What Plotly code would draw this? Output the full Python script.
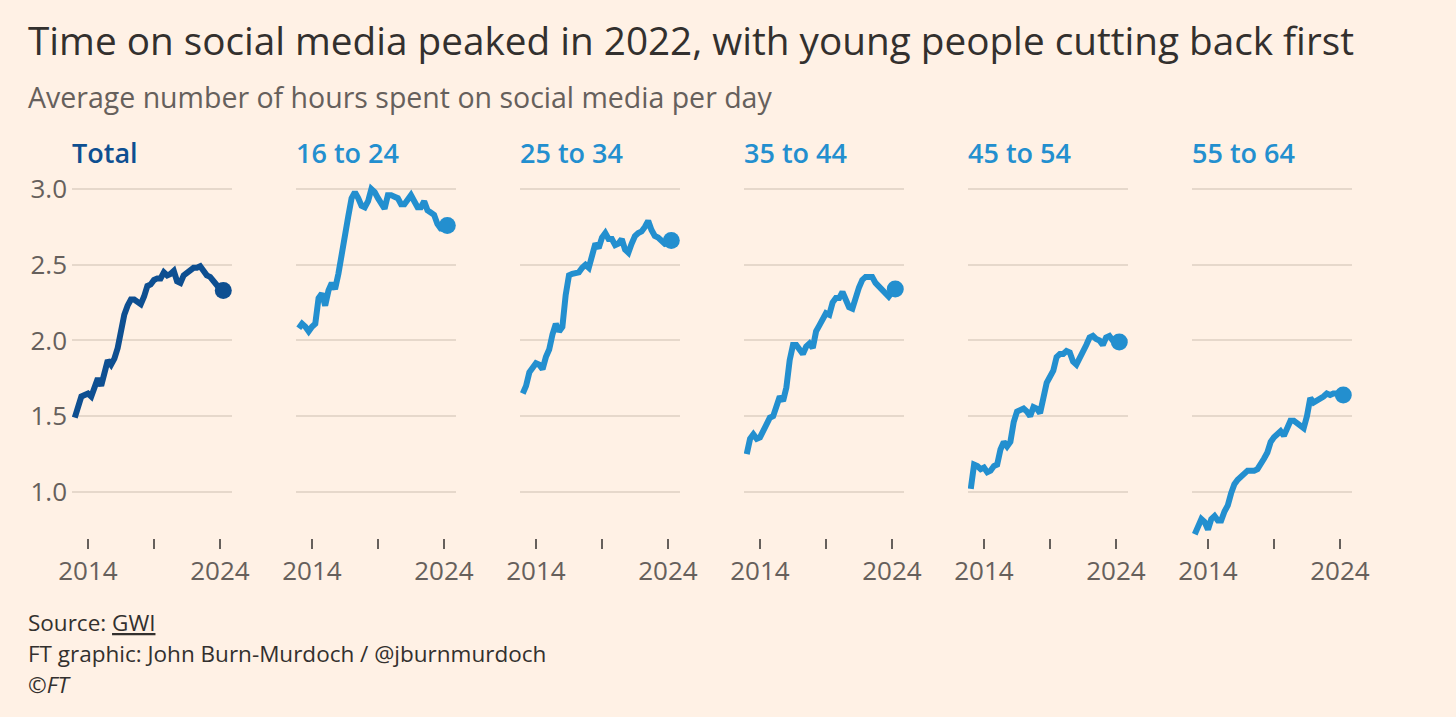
import plotly.graph_objects as go

W, H = 1456, 717

# quarterly observations, decimal years
quarters = [2013.0, 2013.25, 2013.5, 2013.75, 2014.0, 2014.25, 2014.5, 2014.75,
            2015.0, 2015.25, 2015.5, 2015.75, 2016.0, 2016.25, 2016.5, 2016.75,
            2017.0, 2017.25, 2017.5, 2017.75, 2018.0, 2018.25, 2018.5, 2018.75,
            2019.0, 2019.25, 2019.5, 2019.75, 2020.0, 2020.25, 2020.5, 2020.75,
            2021.0, 2021.25, 2021.5, 2021.75, 2022.0, 2022.25, 2022.5, 2022.75,
            2023.0, 2023.25, 2023.5, 2023.75, 2024.0, 2024.25]

groups = ["Total", "16 to 24", "25 to 34", "35 to 44", "45 to 54", "55 to 64"]

total = [1.49, 1.56, 1.63, 1.64, 1.65, 1.63, 1.69, 1.75, 1.70, 1.79, 1.87, 1.84,
         1.88, 1.95, 2.08, 2.17, 2.23, 2.27, 2.27, 2.26, 2.24, 2.29, 2.36, 2.37,
         2.40, 2.41, 2.41, 2.45, 2.43, 2.44, 2.46, 2.39, 2.38, 2.43, 2.45, 2.46,
         2.48, 2.48, 2.49, 2.46, 2.43, 2.42, 2.39, 2.36, 2.34, 2.33]
age_16_24 = [2.08, 2.11, 2.09, 2.06, 2.09, 2.11, 2.28, 2.31, 2.23, 2.33, 2.38, 2.34,
             2.44, 2.55, 2.68, 2.82, 2.94, 2.98, 2.94, 2.89, 2.88, 2.92, 3.00, 2.98,
             2.94, 2.91, 2.87, 2.96, 2.96, 2.95, 2.94, 2.90, 2.90, 2.93, 2.96, 2.92,
             2.88, 2.88, 2.92, 2.86, 2.84, 2.83, 2.77, 2.74, 2.74, 2.76]
age_25_34 = [1.65, 1.70, 1.79, 1.82, 1.85, 1.84, 1.81, 1.89, 1.94, 2.04, 2.11, 2.06,
             2.09, 2.30, 2.43, 2.44, 2.45, 2.45, 2.48, 2.50, 2.48, 2.58, 2.64, 2.61,
             2.68, 2.71, 2.67, 2.67, 2.63, 2.64, 2.67, 2.60, 2.58, 2.64, 2.69, 2.71,
             2.72, 2.75, 2.79, 2.73, 2.69, 2.68, 2.66, 2.64, 2.65, 2.66]
age_35_44 = [1.25, 1.35, 1.38, 1.35, 1.36, 1.40, 1.46, 1.49, 1.50, 1.58, 1.63, 1.60,
             1.69, 1.87, 1.97, 1.97, 1.93, 1.91, 1.96, 1.98, 1.95, 2.06, 2.10, 2.15,
             2.18, 2.17, 2.25, 2.28, 2.28, 2.32, 2.27, 2.22, 2.21, 2.29, 2.35, 2.40,
             2.42, 2.42, 2.42, 2.38, 2.36, 2.34, 2.31, 2.29, 2.32, 2.34]
age_45_54 = [1.02, 1.18, 1.17, 1.15, 1.16, 1.13, 1.14, 1.17, 1.18, 1.28, 1.33, 1.30,
             1.33, 1.46, 1.53, 1.54, 1.55, 1.53, 1.50, 1.56, 1.55, 1.52, 1.63, 1.72,
             1.76, 1.80, 1.89, 1.91, 1.91, 1.93, 1.92, 1.86, 1.84, 1.88, 1.91, 1.97,
             2.02, 2.03, 2.01, 2.00, 1.97, 2.02, 2.03, 2.00, 1.99, 1.99]
age_55_64 = [0.72, 0.77, 0.82, 0.80, 0.75, 0.82, 0.84, 0.81, 0.81, 0.87, 0.91, 0.99,
             1.05, 1.08, 1.10, 1.12, 1.14, 1.14, 1.14, 1.15, 1.18, 1.22, 1.26, 1.33,
             1.36, 1.38, 1.40, 1.37, 1.43, 1.47, 1.47, 1.45, 1.44, 1.42, 1.50, 1.62,
             1.59, 1.60, 1.61, 1.63, 1.65, 1.64, 1.65, 1.65, 1.64, 1.64]

series = [total, age_16_24, age_25_34, age_35_44, age_45_54, age_55_64]

y_ticks = [1.0, 1.5, 2.0, 2.5, 3.0]
x_ticks = [2014, 2019, 2024]
x_tick_labels = ["2014", "", "2024"]

BG = "#fff1e5"
DARK = "#0e4f91"
LIGHT = "#238fcf"
GRID = "#e6d8cb"
GREY = "#66605c"
INK = "#33302e"
FONT = "Open Sans"

fig = go.Figure()

for i, (name, vals) in enumerate(zip(groups, series)):
    col = DARK if i == 0 else LIGHT
    ax = "" if i == 0 else str(i + 1)
    fig.add_trace(go.Scatter(x=quarters, y=vals, mode="lines",
                             line=dict(color=col, width=6),
                             xaxis="x" + ax, yaxis="y" + ax,
                             hoverinfo="skip", showlegend=False))
    # dot on the latest reading
    fig.add_trace(go.Scatter(x=[quarters[-1]], y=[vals[-1]], mode="markers",
                             marker=dict(color=col, size=17),
                             cliponaxis=False,
                             xaxis="x" + ax, yaxis="y" + ax,
                             hoverinfo="skip", showlegend=False))

    left = (72 + 224 * i) / W
    right = (232 + 224 * i) / W
    fig.layout["xaxis" + ax] = dict(
        domain=[left, right], range=[2012.79, 2024.91],
        tickvals=x_ticks, ticktext=x_tick_labels,
        ticks="outside", ticklen=10, tickwidth=1.5, tickcolor=GREY,
        showgrid=False, zeroline=False, showline=False, automargin=False,
        tickfont=dict(family=FONT, size=26, color=GREY),
        anchor="y" + ax, fixedrange=True)
    fig.layout["yaxis" + ax] = dict(
        domain=[1 - 538 / H, 1 - 180 / H], range=[0.695, 3.06],
        tickvals=y_ticks, ticktext=[f"{v:.1f}" for v in y_ticks],
        showticklabels=(i == 0), ticks="", ticklabelstandoff=4,
        showgrid=True, gridcolor=GRID, gridwidth=1.5, automargin=False,
        zeroline=False, showline=False,
        tickfont=dict(family=FONT, size=26, color=GREY),
        anchor="x" + ax, fixedrange=True)

    fig.add_annotation(text=name, xref="x" + ax + " domain", yref="paper",
                       x=0, y=1 - 153 / H, xanchor="left", yanchor="middle",
                       showarrow=False, xshift=-2,
                       font=dict(family=FONT, size=27, color=col, weight=600))

fig.add_annotation(text="Time on social media peaked in 2022, with young people cutting back first",
                   xref="paper", yref="paper", x=26 / W, y=1 - 40 / H,
                   xanchor="left", yanchor="middle", showarrow=False,
                   font=dict(family=FONT, size=38.7, color=INK))
fig.add_annotation(text="Average number of hours spent on social media per day",
                   xref="paper", yref="paper", x=26 / W, y=1 - 97 / H,
                   xanchor="left", yanchor="middle", showarrow=False,
                   font=dict(family=FONT, size=28.5, color=GREY))

footer = ["Source: <span style='text-decoration:underline'>GWI</span>",
          "FT graphic: John Burn-Murdoch / @jburnmurdoch",
          "<i>©FT</i>"]
for line, ypx in zip(footer, [622, 653, 684]):
    fig.add_annotation(text=line, xref="paper", yref="paper", x=26 / W, y=1 - ypx / H,
                       xanchor="left", yanchor="middle", showarrow=False,
                       font=dict(family=FONT, size=22.5, color=INK))

fig.update_layout(width=W, height=H, paper_bgcolor=BG, plot_bgcolor=BG,
                  margin=dict(l=0, r=0, t=0, b=0, autoexpand=False),
                  showlegend=False)

fig.write_html("out.html", config={"displayModeBar": False},
               post_script="document.body.style.margin='0';"
                           "document.body.style.overflow='hidden';")
